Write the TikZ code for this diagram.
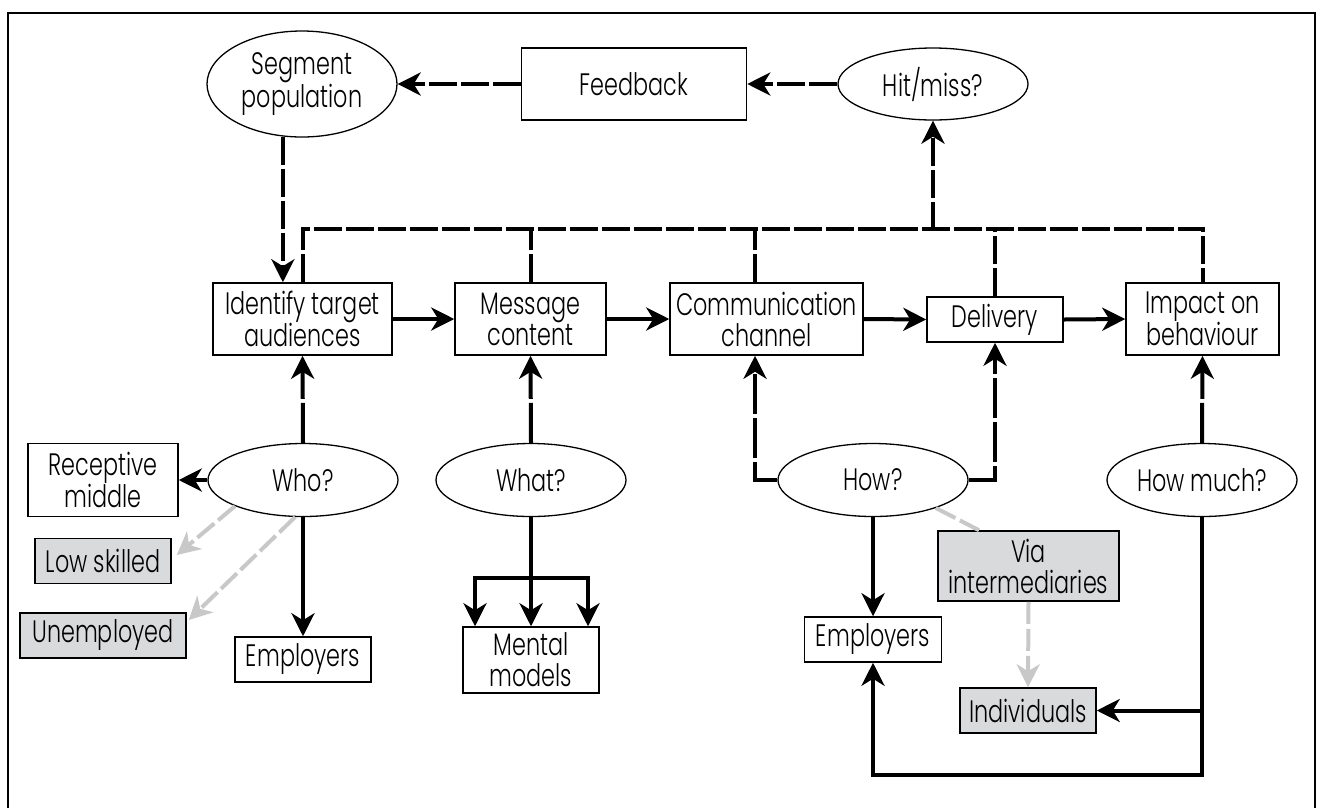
\documentclass[tikz,border=0pt]{standalone}
\usepackage{fontspec}
\setmainfont[FakeStretch=0.72]{Poppins Light}
\usetikzlibrary{shapes.geometric,arrows.meta}
\definecolor{boxgray}{HTML}{D9DADC}
\definecolor{linegray}{HTML}{C8C8C8}
\begin{document}
\begin{tikzpicture}[x=1pt,y=-1pt,
  font=\fontsize{31}{31}\selectfont,
  box/.style={draw,line width=1.5pt,inner sep=0pt,align=center},
  gbox/.style={box,fill=boxgray},
  oval/.style={draw,ellipse,line width=1.3pt,inner sep=0pt,minimum width=190pt,minimum height=73pt,align=center},
  tip/.style={-{Stealth[length=23pt,width=23pt,inset=7pt]}},
  arr/.style={line width=4pt,tip},
  dsh/.style={line width=4pt,dash pattern=on 28pt off 4pt},
  ldsh/.style={line width=4pt,dash pattern=on 40pt off 4pt},
  gdsh/.style={line width=4pt,color=linegray,dash pattern=on 22pt off 5pt}
]
\useasboundingbox (0,0) rectangle (1321,807);
\draw[line width=2.5pt] (8,830) -- (8,13) -- (1315,13) -- (1315,830);

% top row
\node[oval,minimum height=106pt] (seg) at (302,84) {Segment\\population};
\node[box,minimum width=225pt,minimum height=72pt] (fb) at (634,84) {Feedback};
\node[oval,minimum height=72pt] (hit) at (933,84) {Hit/miss?};

% main row
\node[box,minimum width=179pt,minimum height=72pt] (ident) at (302.5,319) {Identify target\\audiences};
\node[box,minimum width=151pt,minimum height=72pt] (msg) at (530.5,319) {Message\\content};
\node[box,minimum width=193pt,minimum height=72pt] (comm) at (766.5,319) {Communication\\channel};
\node[box,minimum width=136pt,minimum height=45pt] (del) at (995,319.5) {Delivery};
\node[box,minimum width=153pt,minimum height=72pt] (imp) at (1202.5,319) {Impact on\\behaviour};

% question row
\node[oval] (who) at (303,480) {Who?};
\node[oval] (what) at (531,480) {What?};
\node[oval] (how) at (873,480) {How?};
\node[oval] (howm) at (1202,480) {How much?};

% lower nodes
\node[box,minimum width=150pt,minimum height=73pt] (recep) at (103,480) {Receptive\\middle};
\node[gbox,minimum width=136pt,minimum height=45pt] (low) at (103,561) {Low skilled};
\node[gbox,minimum width=166pt,minimum height=45pt] (unemp) at (103,635.5) {Unemployed};
\node[box,minimum width=136pt,minimum height=45pt] (emp1) at (303,659.5) {Employers};
\node[box,minimum width=136pt,minimum height=66pt] (mental) at (531,660) {Mental\\models};
\node[box,minimum width=137pt,minimum height=45pt] (emp2) at (873,639.5) {Employers};
\node[gbox,minimum width=181pt,minimum height=70pt] (via) at (1028.5,566) {Via\\intermediaries};
\node[gbox,minimum width=136pt,minimum height=45pt] (indiv) at (1028,710.5) {Individuals};

% coordinates
\coordinate (hj) at (933,230);
\coordinate (wb) at (531,578);
\coordinate (hb) at (1202,775);
\coordinate (hi) at (1202,710.5);

% feedback loop
\draw[dsh,tip] (hit.west) -- (fb.east);
\draw[dsh,tip] (fb.west) -- (seg.east);
\draw[dsh,tip] (seg.250) -- (seg.250 |- ident.north);
\draw[dsh] (ident.north) -- ++(0,-53) -| (imp.north);
\draw[dsh] (msg.north) -- ++(0,-53);
\draw[dsh] ([xshift=-11.5pt]comm.north) -- ++(0,-53);
\draw[dsh] (del.north) -- ++(0,-67);
\draw[dsh,tip] (hj) -- (hit.south);

% main flow
\draw[arr] (ident.east) -- (msg.west);
\draw[arr] (msg.east) -- (comm.west);
\draw[arr] (comm.east) -- (del.west);
\draw[arr] (del.east) -- (imp.west);

% questions up
\draw[ldsh,tip] (who.north) -- (ident.south);
\draw[ldsh,tip] (what.north) -- (msg.south);
\draw[ldsh,tip] (how.west) -| ([xshift=-11.5pt]comm.south);
\draw[ldsh,tip] (how.east) -| (del.south);
\draw[ldsh,tip] (howm.north) -- (imp.south);

% who
\draw[arr] (who.west) -- (recep.east);
\draw[arr] (who.south) -- (emp1.north);
\draw[gdsh,-{Stealth[length=23pt,width=23pt,inset=7pt]}] (who.201) -- ([xshift=5pt,yshift=6pt]low.east);
\draw[gdsh,-{Stealth[length=23pt,width=23pt,inset=7pt]}] (who.258) -- ([xshift=2pt,yshift=15.5pt]unemp.east);

% what
\draw[arr] (what.south) -- (mental.north);
\draw[arr] (wb) -| ([xshift=-56pt]mental.north);
\draw[arr] (wb) -| ([xshift=57pt]mental.north);

% how
\draw[arr] (how.south) -- (emp2.north);
\draw[gdsh] (how.336) -- ([xshift=-49.5pt]via.north);
\draw[gdsh,-{Stealth[length=23pt,width=23pt,inset=7pt]}] (via.south) -- (indiv.north);

% how much
\draw[arr] (howm.south) -- (hb) -| (emp2.south);
\draw[arr] (hi) -- (indiv.east);
\end{tikzpicture}
\end{document}
